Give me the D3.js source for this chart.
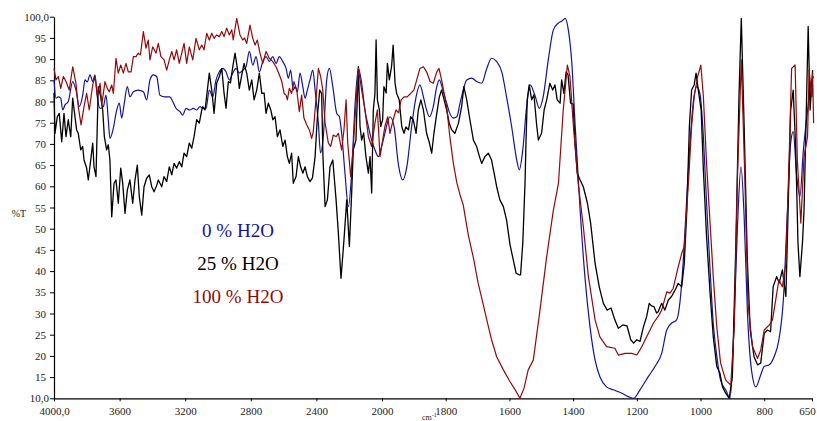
<!DOCTYPE html>
<html>
<head>
<meta charset="utf-8">
<script src="https://cdn.jsdelivr.net/npm/d3@7"></script>
<style>
  body { margin: 0; background: #fff; }
  text { font-family: "Liberation Serif", "Times New Roman", serif; }
</style>
</head>
<body>
<div id="chart"></div>
<script>
// axis ticks
const xTicks = [4000, 3600, 3200, 2800, 2400, 2000, 1800, 1600, 1400, 1200, 1000, 800, 650];
const xTickLabels = ["4000,0", "3600", "3200", "2800", "2400", "2000", "1800", "1600", "1400", "1200", "1000", "800", "650"];
const yTicks = [100, 95, 90, 85, 80, 75, 70, 65, 60, 55, 50, 45, 40, 35, 30, 25, 20, 15, 10];
const yTickLabels = ["100,0", "95", "90", "85", "80", "75", "70", "65", "60", "55", "50", "45", "40", "35", "30", "25", "20", "15", "10,0"];

// legend
const seriesNames = ["0 % H2O", "25 % H2O", "100 % H2O"];
const seriesColors = ["#14149a", "#000000", "#8e0b0b"];

// spectra, [wavenumber cm-1, %T]
const h2o0 = [
  [4000,85.1],[3988,80.8],[3974,81.1],[3959,80.8],[3947,78.0],[3933,79.2],[3913,80.0],[3886,84.7],
  [3866,82.7],[3846,78.8],[3825,81.5],[3811,85.1],[3797,84.6],[3780,86.3],[3764,84.7],[3750,86.3],
  [3736,81.1],[3719,78.4],[3699,78.8],[3683,81.5],[3669,75.7],[3659,71.3],[3638,73.7],[3622,77.2],
  [3602,79.6],[3587,76.1],[3573,79.2],[3553,83.5],[3537,81.1],[3516,82.3],[3486,82.7],[3455,82.3],
  [3435,80.4],[3415,85.1],[3394,86.3],[3374,85.9],[3354,81.5],[3323,81.1],[3293,81.1],[3276,80.0],
  [3256,78.4],[3232,77.6],[3215,76.8],[3195,78.4],[3171,78.0],[3151,78.4],[3130,78.0],[3110,78.8],
  [3090,78.3],[3073,78.4],[3053,82.7],[3032,81.1],[3012,85.1],[2992,87.0],[2971,87.8],[2951,87.0],
  [2931,85.1],[2910,86.7],[2890,87.8],[2870,86.7],[2849,87.4],[2829,88.2],[2809,91.8],[2788,88.6],
  [2768,90.6],[2748,87.0],[2727,89.4],[2707,90.6],[2687,89.4],[2666,90.6],[2646,89.0],[2626,90.6],
  [2605,89.4],[2585,87.8],[2571,85.5],[2557,87.4],[2541,82.7],[2530,83.5],[2516,82.3],[2500,86.7],
  [2483,83.5],[2469,80.8],[2455,82.7],[2439,85.1],[2422,87.4],[2408,82.7],[2388,74.9],[2375,67.9],
  [2358,71.7],[2337,85.1],[2321,87.8],[2300,83.5],[2276,77.2],[2260,76.4],[2246,72.5],[2226,63.2],
  [2205,55.2],[2185,63.2],[2165,78.8],[2144,87.8],[2124,84.3],[2104,78.0],[2083,74.1],[2063,70.9],
  [2043,68.6],[2022,67.0],[2002,69.4],[1991,72.5],[1975,76.4],[1962,74.1],[1949,65.4],[1935,61.5],
  [1922,64.6],[1907,74.1],[1893,81.1],[1881,83.9],[1870,81.1],[1860,78.0],[1851,76.4],[1839,78.8],
  [1828,83.5],[1820,85.1],[1809,82.7],[1797,79.6],[1787,77.2],[1776,76.1],[1765,76.4],[1755,79.6],
  [1745,82.7],[1734,85.1],[1718,85.5],[1703,84.7],[1687,84.3],[1671,87.8],[1656,90.2],[1640,89.4],
  [1624,87.0],[1609,81.1],[1593,74.1],[1577,66.2],[1569,63.9],[1558,68.6],[1546,78.8],[1535,83.9],
  [1520,81.5],[1506,78.4],[1494,81.1],[1478,89.8],[1462,96.9],[1446,98.5],[1435,99.0],[1425,99.6],
  [1415,96.9],[1404,89.0],[1394,74.9],[1378,54.4],[1363,38.7],[1347,26.9],[1331,19.0],[1316,15.1],
  [1295,12.7],[1274,12.0],[1247,11.2],[1227,10.4],[1210,10.0],[1190,12.0],[1164,15.1],[1143,17.5],
  [1122,20.6],[1106,26.1],[1091,27.7],[1075,28.5],[1065,32.4],[1054,42.6],[1043,57.6],[1033,70.2],
  [1023,79.6],[1012,83.5],[1002,81.9],[991,71.7],[981,56.0],[970,40.3],[960,27.7],[946,18.3],
  [937,14.3],[921,12.0],[907,10.0],[897,23.0],[884,50.5],[873,64.6],[863,52.8],[853,30.8],
  [840,16.7],[826,12.7],[813,15.1],[800,17.5],[784,17.9],[769,19.8],[754,23.8],[740,33.2],
  [727,54.4],[717,70.2],[709,72.9],[698,62.3],[688,57.6],[677,68.6],[666,76.4],[653,84.3],[645,85.9]
];

const h2o25 = [
  [4000,82.0],[3994,72.5],[3980,76.4],[3968,77.2],[3953,70.5],[3939,77.2],[3927,71.7],[3913,75.7],
  [3898,71.7],[3886,80.8],[3872,76.4],[3862,73.3],[3852,72.5],[3837,68.6],[3825,69.4],[3817,66.2],
  [3801,64.3],[3791,61.5],[3776,66.2],[3764,70.2],[3756,64.6],[3744,62.3],[3730,83.5],[3715,81.1],
  [3703,78.0],[3693,71.7],[3679,68.6],[3669,69.8],[3659,66.2],[3648,52.8],[3634,60.7],[3622,61.5],
  [3608,56.0],[3593,64.3],[3581,60.7],[3567,53.6],[3553,59.1],[3537,61.5],[3520,56.0],[3506,61.5],
  [3492,65.0],[3480,57.6],[3465,53.2],[3451,59.9],[3435,61.9],[3419,62.7],[3404,59.9],[3390,58.7],
  [3375,60.1],[3364,61.5],[3343,59.9],[3329,62.3],[3313,61.1],[3297,64.6],[3282,62.7],[3268,65.4],
  [3252,64.3],[3236,65.8],[3221,64.6],[3207,67.8],[3191,67.0],[3175,70.2],[3160,69.0],[3146,71.7],
  [3130,75.7],[3114,74.9],[3099,78.0],[3093,78.8],[3079,78.0],[3065,82.7],[3053,86.7],[3038,82.7],
  [3024,77.2],[3008,84.3],[2992,85.9],[2977,87.8],[2963,81.9],[2951,78.4],[2937,84.7],[2924,84.4],
  [2910,88.2],[2896,91.4],[2882,87.8],[2870,83.1],[2855,86.3],[2841,89.0],[2825,86.7],[2809,82.7],
  [2794,85.1],[2780,80.4],[2764,82.7],[2748,86.7],[2733,81.9],[2719,82.0],[2707,77.2],[2693,79.6],
  [2678,78.0],[2666,75.7],[2652,76.4],[2638,71.7],[2622,73.3],[2605,69.4],[2591,70.9],[2577,67.0],
  [2565,65.4],[2551,67.8],[2541,60.7],[2524,62.3],[2510,67.0],[2496,64.6],[2483,63.1],[2469,64.6],
  [2455,62.3],[2439,61.1],[2424,62.0],[2408,67.0],[2394,76.4],[2380,82.7],[2368,81.9],[2360,67.0],
  [2347,55.2],[2333,56.8],[2317,64.6],[2300,66.2],[2280,56.8],[2266,48.9],[2250,38.3],[2232,47.3],
  [2215,56.8],[2199,45.8],[2185,58.4],[2175,68.6],[2159,70.9],[2144,88.2],[2134,74.1],[2124,70.9],
  [2112,72.6],[2098,67.0],[2083,63.1],[2073,67.0],[2063,58.4],[2053,78.0],[2043,81.9],[2036,94.5],
  [2028,80.4],[2016,78.0],[2008,74.1],[1998,75.7],[1994,83.5],[1987,82.0],[1983,89.0],[1977,85.1],
  [1970,88.2],[1965,93.3],[1959,84.3],[1954,81.9],[1946,80.4],[1938,74.1],[1931,72.5],[1925,74.0],
  [1917,73.3],[1910,76.4],[1902,75.7],[1893,72.5],[1886,78.0],[1878,80.4],[1870,78.0],[1860,72.5],
  [1851,70.2],[1844,67.8],[1837,72.5],[1828,77.2],[1820,81.1],[1813,82.7],[1805,80.4],[1797,78.0],
  [1789,74.9],[1781,73.3],[1771,72.5],[1760,74.9],[1750,78.8],[1743,83.5],[1734,80.4],[1724,75.7],
  [1713,70.9],[1703,69.4],[1694,67.0],[1687,65.4],[1677,67.0],[1666,67.8],[1656,66.2],[1648,63.1],
  [1640,59.9],[1630,56.8],[1619,55.2],[1609,52.1],[1598,46.2],[1590,43.4],[1579,39.5],[1569,39.1],
  [1565,39.1],[1558,46.6],[1551,60.7],[1548,70.2],[1544,80.4],[1538,83.9],[1530,80.4],[1523,81.6],
  [1514,74.1],[1509,70.9],[1499,72.5],[1491,78.0],[1483,80.4],[1473,84.3],[1464,82.7],[1457,83.9],
  [1450,80.4],[1441,79.6],[1436,85.1],[1429,81.9],[1422,87.0],[1416,86.3],[1408,79.6],[1400,79.4],
  [1394,70.2],[1387,63.1],[1378,61.5],[1368,59.9],[1355,56.0],[1345,51.3],[1331,41.8],[1318,36.3],
  [1305,32.4],[1293,30.8],[1281,31.3],[1269,28.5],[1258,26.5],[1244,27.3],[1231,27.1],[1219,23.8],
  [1210,23.0],[1200,23.8],[1190,23.4],[1179,26.9],[1169,29.3],[1161,32.4],[1154,31.8],[1146,31.6],
  [1138,30.1],[1133,30.4],[1122,32.4],[1112,30.8],[1101,33.2],[1091,34.0],[1080,35.5],[1070,37.1],
  [1059,36.3],[1051,41.8],[1043,54.4],[1035,74.1],[1028,82.7],[1020,83.9],[1014,86.7],[1007,82.7],
  [998,78.0],[991,63.9],[981,48.1],[970,34.8],[960,24.5],[949,17.5],[939,15.9],[931,12.7],
  [921,11.2],[910,10.0],[900,15.1],[889,46.6],[879,82.0],[872,99.6],[863,74.1],[853,42.6],
  [844,26.1],[832,19.8],[821,17.9],[811,18.3],[800,25.3],[790,26.1],[780,25.7],[772,36.3],
  [761,38.7],[753,37.2],[743,40.3],[732,34.0],[725,54.4],[717,78.0],[709,82.7],[701,68.6],
  [694,46.6],[688,38.7],[680,46.6],[675,54.4],[669,74.1],[662,97.7],[656,78.0],[648,87.4]
];

const h2o100 = [
  [4000,87.8],[3988,85.1],[3974,85.9],[3959,83.1],[3943,85.9],[3927,84.7],[3907,82.7],[3886,88.2],
  [3866,84.3],[3852,78.8],[3835,74.5],[3817,78.8],[3801,81.9],[3785,78.0],[3764,83.9],[3750,85.9],
  [3736,81.5],[3719,84.3],[3709,79.2],[3689,84.7],[3675,83.1],[3663,82.3],[3648,83.9],[3638,81.9],
  [3622,90.2],[3608,86.7],[3593,88.6],[3577,86.7],[3561,89.0],[3547,87.0],[3530,87.0],[3516,90.6],
  [3500,90.6],[3486,91.4],[3473,91.0],[3455,96.5],[3439,92.6],[3425,94.5],[3415,89.8],[3398,92.9],
  [3378,91.4],[3364,93.7],[3348,90.6],[3329,89.8],[3313,87.4],[3297,89.8],[3282,91.8],[3268,89.8],
  [3252,92.2],[3236,89.0],[3221,91.4],[3207,93.7],[3191,89.0],[3175,92.9],[3154,89.8],[3134,94.9],
  [3114,92.2],[3099,93.3],[3085,92.2],[3069,96.1],[3053,94.5],[3038,96.1],[3024,94.9],[3008,95.7],
  [2992,95.3],[2977,96.5],[2963,95.3],[2947,97.3],[2931,95.7],[2916,96.9],[2907,94.5],[2886,99.6],
  [2866,95.7],[2849,94.5],[2838,95.0],[2825,93.7],[2805,98.0],[2788,94.9],[2774,93.3],[2760,94.5],
  [2744,91.4],[2727,89.0],[2707,91.8],[2687,90.2],[2666,89.4],[2646,88.2],[2626,86.3],[2611,84.7],
  [2597,81.9],[2585,81.5],[2577,80.4],[2565,83.1],[2551,81.9],[2537,84.7],[2520,82.7],[2504,77.6],
  [2490,81.5],[2476,76.1],[2459,74.5],[2443,73.3],[2429,71.3],[2419,72.9],[2402,80.8],[2388,87.8],
  [2374,85.9],[2361,82.7],[2347,74.9],[2327,70.2],[2313,69.4],[2297,72.1],[2280,71.7],[2266,72.5],
  [2246,68.6],[2232,73.3],[2219,80.4],[2209,70.2],[2191,62.3],[2175,69.4],[2154,82.3],[2144,87.8],
  [2124,82.7],[2104,78.0],[2083,71.7],[2063,69.4],[2043,74.9],[2028,78.0],[2012,67.0],[1998,70.9],
  [1991,74.1],[1982,76.4],[1975,72.5],[1965,75.7],[1956,78.0],[1948,77.3],[1940,80.4],[1931,81.1],
  [1921,81.1],[1910,81.9],[1900,82.7],[1891,85.1],[1881,87.8],[1870,88.2],[1860,87.0],[1849,84.7],
  [1839,84.3],[1828,87.0],[1821,87.8],[1813,85.1],[1797,78.8],[1787,71.7],[1776,65.4],[1765,60.8],
  [1755,58.0],[1745,55.6],[1729,48.5],[1713,43.1],[1698,37.1],[1687,33.7],[1671,28.5],[1656,23.8],
  [1640,19.8],[1619,16.7],[1598,13.9],[1582,12.0],[1567,10.0],[1554,12.4],[1541,16.7],[1525,19.0],
  [1504,30.8],[1483,43.4],[1462,54.4],[1446,60.7],[1431,78.0],[1418,88.6],[1410,85.9],[1399,74.1],
  [1384,60.7],[1368,50.5],[1352,38.7],[1331,28.5],[1316,24.5],[1295,22.2],[1269,21.8],[1258,20.2],
  [1237,20.6],[1216,20.6],[1200,20.2],[1184,22.2],[1164,25.3],[1148,27.7],[1133,29.3],[1122,30.8],
  [1106,35.1],[1096,34.8],[1086,35.9],[1070,41.0],[1059,44.2],[1051,45.8],[1038,60.7],[1028,74.1],
  [1020,81.1],[1009,85.9],[999,88.6],[991,81.1],[981,65.4],[970,51.3],[960,38.7],[949,26.9],
  [937,18.3],[921,14.3],[905,13.1],[894,26.9],[884,62.3],[872,89.8],[861,62.3],[851,32.4],
  [837,22.2],[821,19.4],[811,21.4],[800,26.1],[784,27.3],[774,28.5],[764,33.2],[754,37.9],
  [743,36.3],[732,41.8],[722,66.2],[714,87.8],[703,88.6],[696,66.2],[685,51.3],[675,67.0],
  [664,71.7],[659,87.4],[651,81.1],[648,86.7],[645,74.9]
];

// Basic set up
const svg = d3.select("#chart").append("svg")
  .attr("width", 817)
  .attr("height", 421);

// wavenumber axis is expanded below 2000
const x = d3.scaleLinear()
  .domain([4000, 2000, 650])
  .range([54, 382, 812]);

const y = d3.scaleLinear()
  .domain([10, 100])
  .range([398.3, 16.7]);

// Y axis
const yAxis = svg.append("g")
  .attr("transform", "translate(54,0)")
  .call(d3.axisLeft(y)
    .tickValues(yTicks)
    .tickSize(4)
    .tickSizeOuter(0)
    .tickPadding(4)
    .tickFormat((d, i) => yTickLabels[i]));

yAxis.selectAll("text")
  .attr("dx", (d, i) => yTickLabels[i].includes(",") ? 3 : 0);

// X axis
const xAxis = svg.append("g")
  .attr("transform", "translate(0,398.3)")
  .call(d3.axisBottom(x)
    .tickValues(xTicks)
    .tickSize(3)
    .tickSizeOuter(0)
    .tickPadding(6)
    .tickFormat((d, i) => xTickLabels[i]));

// last label would run off the right edge
xAxis.selectAll("text")
  .attr("dx", (d) => d === 650 ? -5 : 0);

[yAxis, xAxis].forEach((g) => {
  g.select(".domain").attr("stroke", "#000").attr("stroke-width", 1.2);
  g.selectAll(".tick line").attr("stroke", "#000");
  g.selectAll("text")
    .attr("fill", "#222")
    .style("font-size", "11px")
    .style("font-family", "'Liberation Serif', serif");
});

// Axis titles
svg.append("text")
  .attr("x", 19)
  .attr("y", 217)
  .attr("text-anchor", "middle")
  .attr("fill", "#222")
  .style("font-size", "10px")
  .text("%T");

const unit = svg.append("text")
  .attr("x", 422)
  .attr("y", 420)
  .attr("fill", "#222")
  .style("font-size", "8px")
  .text("cm");
unit.append("tspan")
  .attr("dy", -3)
  .style("font-size", "6px")
  .text("-1");

// Spectra
const lineSharp = d3.line()
  .x((d) => x(d[0]))
  .y((d) => y(d[1]));

const lineSmooth = d3.line()
  .curve(d3.curveMonotoneX)
  .x((d) => x(d[0]))
  .y((d) => y(d[1]));

const spectra = [
  { data: h2o0, color: seriesColors[0], line: lineSmooth, w: 1.2 },
  { data: h2o25, color: seriesColors[1], line: lineSharp, w: 1.3 },
  { data: h2o100, color: seriesColors[2], line: lineSharp, w: 1.2 }
];

svg.selectAll(".spectrum")
  .data(spectra)
  .enter().append("path")
  .attr("class", "spectrum")
  .attr("fill", "none")
  .attr("stroke", (d) => d.color)
  .attr("stroke-width", (d) => d.w)
  .attr("stroke-linejoin", "round")
  .attr("d", (d) => d.line(d.data));

// Legend labels
svg.selectAll(".legend")
  .data(seriesNames)
  .enter().append("text")
  .attr("class", "legend")
  .attr("x", 238)
  .attr("y", (d, i) => 237 + i * 33)
  .attr("text-anchor", "middle")
  .attr("fill", (d, i) => seriesColors[i])
  .style("font-size", "19px")
  .text((d) => d);
</script>
</body>
</html>
